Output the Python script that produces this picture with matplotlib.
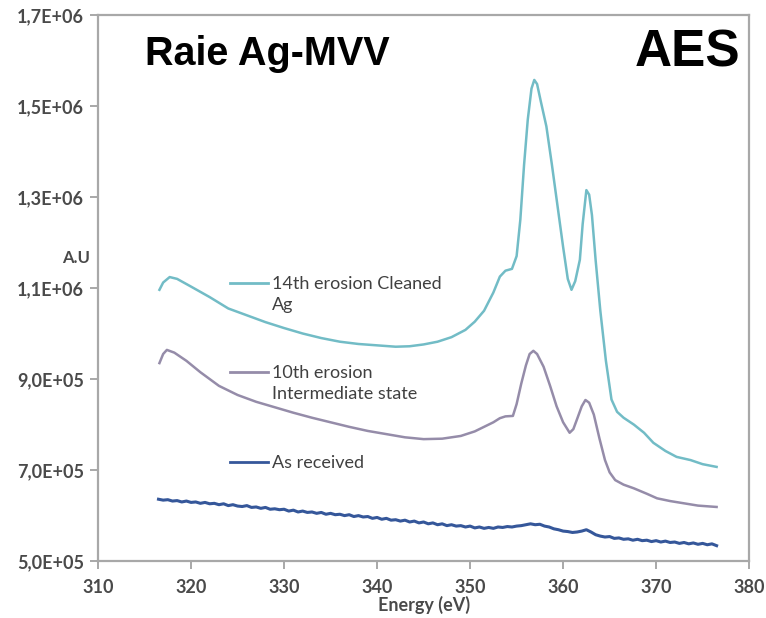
import numpy as np
import matplotlib
matplotlib.use("Agg")
import matplotlib.pyplot as plt

# ---------------- data ----------------
x_ticks = [310, 320, 330, 340, 350, 360, 370, 380]
y_ticks = [5.0e5, 7.0e5, 9.0e5, 1.1e6, 1.3e6, 1.5e6, 1.7e6]
y_tick_labels = ["5,0E+05", "7,0E+05", "9,0E+05", "1,1E+06", "1,3E+06", "1,5E+06", "1,7E+06"]

series_names = ["14th erosion Cleaned\nAg", "10th erosion\nIntermediate state", "As received"]

e_14th = [316.6, 317.0, 317.7, 318.5, 320, 322, 324, 326, 328, 330, 332, 334, 336, 338, 340, 342,
          343.5, 345, 346.5, 348, 349.5, 350.5, 351.5, 352.5, 353.2, 353.8, 354.5, 355.0, 355.4,
          355.8, 356.2, 356.6, 356.9, 357.2, 357.6, 358.2, 358.8, 359.4, 360.0, 360.5, 360.9,
          361.3, 361.8, 362.1, 362.5, 362.8, 363.1, 363.5, 364.0, 364.6, 365.2, 365.8, 366.5, 367.6,
          368.7, 369.7, 371, 372.2, 373.7, 375, 376.5]
i_14th = [1.096, 1.112, 1.124, 1.120, 1.103, 1.080, 1.055, 1.040, 1.025, 1.012, 1.000, 0.990,
          0.982, 0.977, 0.974, 0.971, 0.972, 0.976, 0.982, 0.992, 1.008, 1.026, 1.050, 1.090,
          1.125, 1.138, 1.142, 1.170, 1.250, 1.370, 1.470, 1.538, 1.557, 1.548, 1.510, 1.455,
          1.370, 1.280, 1.190, 1.120, 1.096, 1.115, 1.162, 1.240, 1.315, 1.305, 1.260, 1.160, 1.050,
          0.940, 0.855, 0.828, 0.815, 0.800, 0.782, 0.760, 0.742, 0.729, 0.722, 0.713, 0.707]

e_10th = [316.6, 317.0, 317.4, 318.2, 319.5, 321, 323, 325, 327, 329, 331, 333, 335, 337, 339, 341,
          343, 345, 347, 349, 350.5, 351.5, 352.5, 353.2, 353.8, 354.6, 355.0, 355.5, 356.0, 356.4,
          356.8, 357.2, 357.9, 358.6, 359.3, 360.0, 360.7, 361.1, 361.5, 362.0, 362.4, 362.8,
          363.3, 363.9, 364.5, 365.0, 365.6, 366.5, 367.6, 369, 370.1, 371.5, 373, 374.5, 376.5]
i_10th = [0.935, 0.955, 0.964, 0.958, 0.940, 0.915, 0.885, 0.865, 0.850, 0.838, 0.826, 0.815,
          0.805, 0.795, 0.786, 0.779, 0.772, 0.768, 0.769, 0.775, 0.785, 0.795, 0.805, 0.814,
          0.818, 0.819, 0.845, 0.890, 0.930, 0.955, 0.962, 0.955, 0.927, 0.885, 0.840, 0.805,
          0.782, 0.790, 0.812, 0.840, 0.854, 0.848, 0.822, 0.770, 0.722, 0.695, 0.678, 0.668,
          0.660, 0.648, 0.638, 0.632, 0.627, 0.622, 0.619]

e_received = np.arange(316.5, 376.6, 0.5)
i_received_k = [636, 634, 635, 632, 633, 630, 632, 629, 630, 627, 629, 626, 627, 624, 626, 622,
                624, 621, 620, 622, 618, 619, 616, 618, 614, 615, 613, 614, 610, 612, 608, 610,
                607, 608, 605, 607, 603, 605, 602, 603, 600, 602, 598, 600, 597, 598, 594, 596,
                592, 594, 590, 591, 588, 590, 586, 588, 584, 586, 582, 584, 580, 582, 578, 580,
                577, 578, 575, 577, 573, 575, 572, 574, 572, 575, 574, 576, 575, 577, 578, 580,
                582, 580, 581, 577, 575, 571, 569, 566, 565, 563, 564, 566, 569, 564, 558, 555,
                553, 554, 550, 551, 548, 549, 546, 548, 545, 546, 543, 545, 542, 544, 541, 542,
                539, 541, 538, 540, 537, 539, 536, 538, 534]

colors = ["#72bcc6", "#958ca9", "#35579a"]

# ---------------- figure ----------------
fig = plt.figure(figsize=(7.66, 6.18), dpi=100)
ax = fig.add_axes([0.128, 0.092, 0.850, 0.884])

ax.plot(e_14th, np.array(i_14th) * 1e6, color=colors[0], lw=1.8, solid_joinstyle="round")
ax.plot(e_10th, np.array(i_10th) * 1e6, color=colors[1], lw=1.8, solid_joinstyle="round")
ax.plot(e_received, np.array(i_received_k) * 1e3, color=colors[2], lw=2.2, solid_joinstyle="round")

ax.set_xlim(310, 380)
ax.set_ylim(5.0e5, 1.7e6)
ax.set_xticks(x_ticks)
ax.set_yticks(y_ticks)
ax.set_yticklabels(y_tick_labels)

tick_color = "#4a4a4a"
for lab in ax.get_xticklabels() + ax.get_yticklabels():
    lab.set_family(["Lato", "DejaVu Sans"])
    lab.set_fontweight("bold")
    lab.set_fontsize(13)
    lab.set_color(tick_color)

for sp in ax.spines.values():
    sp.set_color("#a8a8a8")
    sp.set_linewidth(1.6)
ax.tick_params(axis="both", direction="out", length=6, width=1.4, color="#a8a8a8")
ax.tick_params(axis="x", pad=7)
ax.tick_params(axis="y", pad=4)

ax.set_xlabel("Energy (eV)", family=["Lato", "DejaVu Sans"], fontweight="bold",
              fontsize=13, color=tick_color, labelpad=0)

fig.text(0.081, 0.583, "A.U", family=["Lato", "DejaVu Sans"], fontweight="bold",
         fontsize=12, color=tick_color, ha="left", va="center")

# titles inside the plot
ax.text(0.072, 0.928, "Raie Ag-MVV", transform=ax.transAxes, family=["Liberation Sans", "DejaVu Sans"],
        fontweight="bold", fontsize=28.5, color="black", ha="left", va="center")
ax.text(0.987, 0.93, "AES", transform=ax.transAxes, family=["Liberation Sans", "DejaVu Sans"],
        fontweight="bold", fontsize=37, color="black", ha="right", va="center")

# legend (manual, handle aligned to first label line)
leg_y = [0.509, 0.346, 0.181]
for name, col, yy in zip(series_names, colors, leg_y):
    ax.plot([0.203, 0.261], [yy, yy], transform=ax.transAxes, color=col, lw=2.0)
    ax.text(0.267, yy + 0.013, name, transform=ax.transAxes, family=["Lato", "DejaVu Sans"],
            fontsize=13, color="#404040", ha="left", va="top", linespacing=1.4)

fig.savefig("out.png", dpi=100)
